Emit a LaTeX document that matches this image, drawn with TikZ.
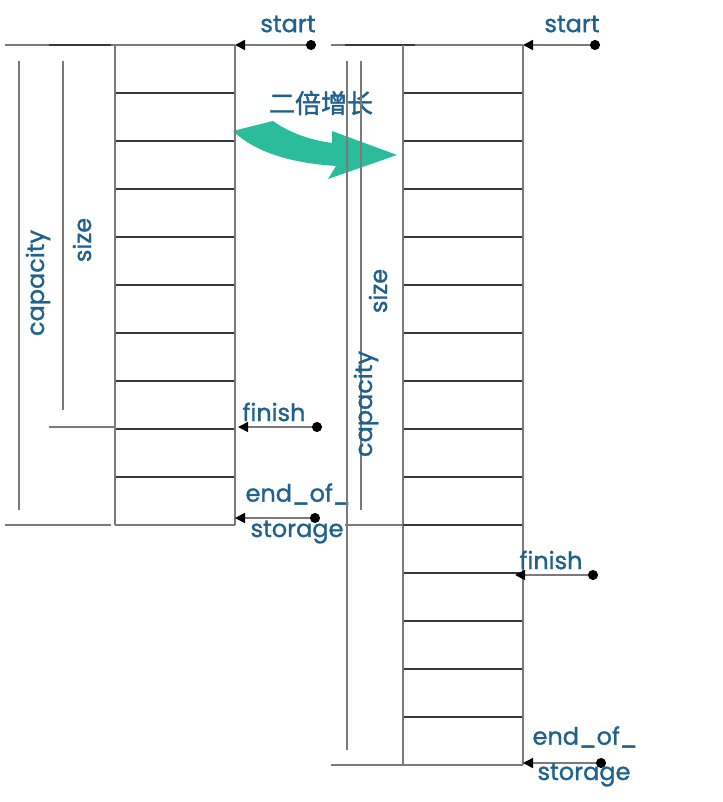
\documentclass[tikz,border=0pt]{standalone}
\usepackage{fontspec}
\setmainfont{Poppins}
\newfontfamily\lblfont{Poppins}[FakeBold=1.2]
\newfontfamily\cjk{Noto Sans CJK SC}[FakeBold=1.5]
\usetikzlibrary{arrows.meta}
\definecolor{lbl}{RGB}{31,96,140}
\definecolor{vline}{RGB}{122,122,122}
\definecolor{hline}{RGB}{55,55,55}
\definecolor{grn}{RGB}{43,189,155}
\begin{document}
\begin{tikzpicture}[x=1pt,y=-1pt,
  vl/.style={draw=vline,line width=1.6pt},
  hl/.style={draw=hline,line width=1.6pt},
  ptr/.style={draw=vline,line width=1.6pt,{Circle[black,length=10pt]}-{Triangle[black,length=10pt,width=10pt]},shorten <=-5pt},
  lbltext/.style={text=lbl,inner sep=0pt,font=\lblfont\fontsize{24}{26}\selectfont},
  rotlbl/.style={lbltext,rotate=90}]
\useasboundingbox (0,0) rectangle (722,802);
% green growth arrow
\fill[grn] (233,131) -- (273,121) .. controls (290,133) and (310,140) .. (332,143)
  -- (332,131) -- (397,155) -- (328,179) -- (336,166)
  .. controls (290,163) and (255,152) .. (233,131) -- cycle;
\node[text=lbl,inner sep=0pt,font=\cjk\fontsize{26}{28}\selectfont] (grow) at (321,103) {二倍增长};
% ---------- left array ----------
\draw[vl] (5,45) -- (235,45);
\draw[hl] (49,45) -- (111,45);
\foreach \i in {1,...,9} \draw[hl] (115,{45+48*\i}) -- (235,{45+48*\i});
\draw[vl] (115,45) -- (115,525);
\draw[vl] (235,45) -- (235,525);
\draw[vl] (115,525) -- (235,525);
\draw[vl] (5,525) -- (111,525);
\draw[vl] (19,61) -- (19,510);
\draw[vl] (63,61) -- (63,410);
\draw[vl] (49,427) -- (116,427);
\node[rotlbl] (lcap) at (38,283) {capacity};
\node[rotlbl] (lsize) at (82,240) {size};
% left pointers
\coordinate (lsD) at (311,45);  \coordinate (lsT) at (235,45);
\coordinate (lfD) at (317,427); \coordinate (lfT) at (238,427);
\coordinate (leD) at (315,518); \coordinate (leT) at (235,518);
\draw[ptr] (lsD) -- (lsT);
\draw[ptr] (lfD) -- (lfT);
\draw[ptr] (leD) -- (leT);
\node[lbltext] (lstart) at (288,24) {start};
\node[lbltext] (lfin) at (274,412) {finish};
\node[lbltext] (leo) at (298,494) {end\_of\_};
\node[lbltext] (lst) at (297,532) {storage};
% ---------- right array ----------
\draw[vl] (331,45) -- (523,45);
\draw[hl] (345,45) -- (415,45);
\foreach \i in {1,...,14} \draw[hl] (403,{45+48*\i}) -- (523,{45+48*\i});
\draw[vl] (403,45) -- (403,765);
\draw[vl] (523,45) -- (523,765);
\draw[vl] (403,765) -- (523,765);
\draw[vl] (331,765) -- (403,765);
\draw[vl] (345,525) -- (403,525);
\draw[hl] (403,525) -- (415,525);
\draw[vl] (347,61) -- (347,750);
\draw[vl] (361,61) -- (361,510);
\node[rotlbl] (rsize) at (378,291) {size};
\node[rotlbl] (rcap) at (366,404) {capacity};
% right pointers
\coordinate (rsD) at (595,45);  \coordinate (rsT) at (523,45);
\coordinate (rfD) at (593,575); \coordinate (rfT) at (515,575);
\coordinate (reD) at (601,763); \coordinate (reT) at (523,763);
\draw[ptr] (rsD) -- (rsT);
\draw[ptr] (rfD) -- (rfT);
\draw[ptr] (reD) -- (reT);
\node[lbltext] (rstart) at (572,24) {start};
\node[lbltext] (rfin) at (551,560) {finish};
\node[lbltext] (reo) at (585,737) {end\_of\_};
\node[lbltext] (rst) at (584,775) {storage};
\end{tikzpicture}
\end{document}
